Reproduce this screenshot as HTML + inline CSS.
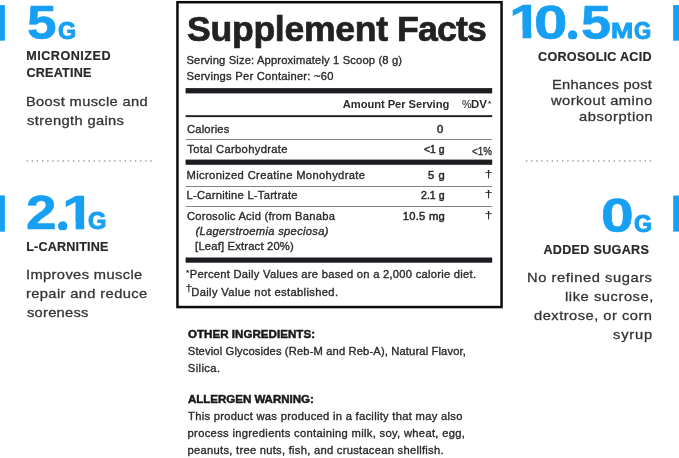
<!DOCTYPE html>
<html lang="en">
<head>
<meta charset="utf-8">
<title>Supplement Facts</title>
<style>
html,body{margin:0;padding:0;background:#fff;}
body{width:679px;height:458px;position:relative;overflow:hidden;will-change:transform;font-family:"Liberation Sans",Arial,sans-serif;}
.t{position:absolute;white-space:nowrap;line-height:1;margin:0;transform-origin:0 0;}
.shapes{position:absolute;left:0;top:0;}
.g{color:#17a0f3;font-weight:700;transform-origin:0 0;}
</style>
</head>
<body>
<svg class="shapes" width="679" height="458" viewBox="0 0 679 458">
<rect x="177.45" y="2.2" width="324.1" height="304.85" fill="none" stroke="#0c0c0e" stroke-width="2.5"/>
<rect x="0" y="5.1" width="4.9" height="35.6" fill="#17a0f3"/>
<rect x="0" y="195.4" width="4.9" height="36.3" fill="#17a0f3"/>
<rect x="673.1" y="5.1" width="5.9" height="35.6" fill="#17a0f3"/>
<rect x="673.2" y="195.5" width="5.8" height="36.1" fill="#17a0f3"/>
<rect x="185.6" y="88.1" width="306.6" height="5.3" fill="#1c1d20"/>
<rect x="185.6" y="115.2" width="306.6" height="1.9" fill="#1c1d20"/>
<rect x="185.6" y="139" width="306.6" height="1" fill="#858585"/>
<rect x="185.6" y="159.6" width="306.6" height="5.2" fill="#1c1d20"/>
<rect x="185.6" y="186" width="306.6" height="1" fill="#858585"/>
<rect x="185.6" y="206.0" width="306.6" height="1" fill="#858585"/>
<rect x="185.6" y="257.5" width="306.6" height="5.2" fill="#1c1d20"/>
<g fill="#a9a9a9"><circle cx="27.20" cy="160.9" r="0.85"/><circle cx="32.36" cy="160.9" r="0.85"/><circle cx="37.52" cy="160.9" r="0.85"/><circle cx="42.68" cy="160.9" r="0.85"/><circle cx="47.84" cy="160.9" r="0.85"/><circle cx="53.00" cy="160.9" r="0.85"/><circle cx="58.16" cy="160.9" r="0.85"/><circle cx="63.32" cy="160.9" r="0.85"/><circle cx="68.48" cy="160.9" r="0.85"/><circle cx="73.64" cy="160.9" r="0.85"/><circle cx="78.80" cy="160.9" r="0.85"/><circle cx="83.96" cy="160.9" r="0.85"/><circle cx="89.12" cy="160.9" r="0.85"/><circle cx="94.28" cy="160.9" r="0.85"/><circle cx="99.44" cy="160.9" r="0.85"/><circle cx="104.60" cy="160.9" r="0.85"/><circle cx="109.76" cy="160.9" r="0.85"/><circle cx="114.92" cy="160.9" r="0.85"/><circle cx="120.08" cy="160.9" r="0.85"/><circle cx="125.24" cy="160.9" r="0.85"/><circle cx="130.40" cy="160.9" r="0.85"/><circle cx="135.56" cy="160.9" r="0.85"/><circle cx="140.72" cy="160.9" r="0.85"/><circle cx="145.88" cy="160.9" r="0.85"/><circle cx="151.04" cy="160.9" r="0.85"/></g>
<g fill="#a9a9a9"><circle cx="526.60" cy="160.9" r="0.85"/><circle cx="531.76" cy="160.9" r="0.85"/><circle cx="536.92" cy="160.9" r="0.85"/><circle cx="542.08" cy="160.9" r="0.85"/><circle cx="547.24" cy="160.9" r="0.85"/><circle cx="552.40" cy="160.9" r="0.85"/><circle cx="557.56" cy="160.9" r="0.85"/><circle cx="562.72" cy="160.9" r="0.85"/><circle cx="567.88" cy="160.9" r="0.85"/><circle cx="573.04" cy="160.9" r="0.85"/><circle cx="578.20" cy="160.9" r="0.85"/><circle cx="583.36" cy="160.9" r="0.85"/><circle cx="588.52" cy="160.9" r="0.85"/><circle cx="593.68" cy="160.9" r="0.85"/><circle cx="598.84" cy="160.9" r="0.85"/><circle cx="604.00" cy="160.9" r="0.85"/><circle cx="609.16" cy="160.9" r="0.85"/><circle cx="614.32" cy="160.9" r="0.85"/><circle cx="619.48" cy="160.9" r="0.85"/><circle cx="624.64" cy="160.9" r="0.85"/><circle cx="629.80" cy="160.9" r="0.85"/><circle cx="634.96" cy="160.9" r="0.85"/><circle cx="640.12" cy="160.9" r="0.85"/><circle cx="645.28" cy="160.9" r="0.85"/><circle cx="650.44" cy="160.9" r="0.85"/></g>
</svg>
<div class="num"><span class="t g" style="left:27.20px;top:-1px;font-size:47.58px;transform:scaleX(1.1164);-webkit-text-stroke:0.6px #17a0f3;">5</span><span class="t g" style="left:57.51px;top:19px;font-size:24.72px;transform:scaleX(0.9445);-webkit-text-stroke:1.0px #17a0f3;">G</span></div>
<div class="t" style="left:26.16px;top:50px;font-size:12.6px;color:#2a2a2c;font-weight:700;letter-spacing:0.513px;-webkit-text-stroke:0.2px #2a2a2c;">MICRONIZED</div>
<div class="t" style="left:26.48px;top:67px;font-size:12.6px;color:#2a2a2c;font-weight:700;letter-spacing:0.225px;-webkit-text-stroke:0.2px #2a2a2c;">CREATINE</div>
<div class="t" style="left:25.80px;top:95px;font-size:13.6px;color:#343436;letter-spacing:0.306px;-webkit-text-stroke:0.3px #343436;transform:scaleX(1.0800);">Boost muscle and</div>
<div class="t" style="left:26.59px;top:114px;font-size:13.6px;color:#343436;letter-spacing:0.336px;-webkit-text-stroke:0.3px #343436;transform:scaleX(1.0800);">strength gains</div>
<div class="num"><span class="t g" style="left:26.24px;top:189px;font-size:47.69px;transform:scaleX(1.1502);-webkit-text-stroke:0.6px #17a0f3;">2</span><span class="t g" style="left:54.35px;top:180px;font-size:59.76px;transform:scaleX(1.0517);-webkit-text-stroke:0.6px #17a0f3;clip-path:ellipse(0.0765em 0.0805em at 0.13843em 0.77204em);">.</span><span class="t g" style="left:62.09px;top:189px;font-size:47.68px;transform:scaleX(1.2524);-webkit-text-stroke:0.6px #17a0f3;clip-path:polygon(0 -10%,67.6% -10%,67.6% 110%,41.2% 110%,41.2% 68%,0 68%);">1</span><span class="t g" style="left:87.83px;top:210px;font-size:23.45px;transform:scaleX(1.0105);-webkit-text-stroke:1.0px #17a0f3;">G</span></div>
<div class="t" style="left:26.16px;top:241px;font-size:12.6px;color:#2a2a2c;font-weight:700;letter-spacing:0.188px;-webkit-text-stroke:0.2px #2a2a2c;">L-CARNITINE</div>
<div class="t" style="left:25.64px;top:268px;font-size:13.6px;color:#343436;letter-spacing:0.347px;-webkit-text-stroke:0.3px #343436;transform:scaleX(1.0800);">Improves muscle</div>
<div class="t" style="left:26.02px;top:287px;font-size:13.6px;color:#343436;letter-spacing:0.350px;-webkit-text-stroke:0.3px #343436;transform:scaleX(1.0800);">repair and reduce</div>
<div class="t" style="left:26.59px;top:306px;font-size:13.6px;color:#343436;letter-spacing:0.234px;-webkit-text-stroke:0.3px #343436;transform:scaleX(1.0800);">soreness</div>
<div class="num"><span class="t g" style="left:509.21px;top:-3px;font-size:48.4px;transform:scaleX(1.2279);-webkit-text-stroke:0.6px #17a0f3;clip-path:polygon(0 -10%,67.6% -10%,67.6% 110%,41.2% 110%,41.2% 68%,0 68%);">1</span><span class="t g" style="left:534.29px;top:-2px;font-size:48.59px;transform:scaleX(1.2401);-webkit-text-stroke:0.6px #17a0f3;">0</span><span class="t g" style="left:564.19px;top:-11px;font-size:59.76px;transform:scaleX(1.0406);-webkit-text-stroke:0.6px #17a0f3;clip-path:ellipse(0.0765em 0.0805em at 0.13843em 0.77204em);">.</span><span class="t g" style="left:580.77px;top:-2px;font-size:48.73px;transform:scaleX(1.1108);-webkit-text-stroke:0.6px #17a0f3;">5</span><span class="t g" style="left:610.84px;top:19px;font-size:22.82px;transform:scaleX(1.1687);-webkit-text-stroke:0.9px #17a0f3;">M</span><span class="t g" style="left:633.76px;top:20px;font-size:23.59px;transform:scaleX(0.9398);-webkit-text-stroke:1.0px #17a0f3;">G</span></div>
<div class="t" style="left:538.08px;top:51px;font-size:12.6px;color:#2a2a2c;font-weight:700;letter-spacing:0.262px;-webkit-text-stroke:0.2px #2a2a2c;">COROSOLIC ACID</div>
<div class="t" style="left:551.80px;top:78px;font-size:13.6px;color:#343436;letter-spacing:0.207px;-webkit-text-stroke:0.3px #343436;transform:scaleX(1.0800);">Enhances post</div>
<div class="t" style="left:551.02px;top:94px;font-size:13.6px;color:#343436;letter-spacing:0.434px;-webkit-text-stroke:0.3px #343436;transform:scaleX(1.0800);">workout amino</div>
<div class="t" style="left:578.78px;top:110px;font-size:13.6px;color:#343436;letter-spacing:0.526px;-webkit-text-stroke:0.3px #343436;transform:scaleX(1.0800);">absorption</div>
<div class="num"><span class="t g" style="left:601.44px;top:191px;font-size:48.16px;transform:scaleX(1.2211);-webkit-text-stroke:0.6px #17a0f3;">0</span><span class="t g" style="left:634.15px;top:213px;font-size:23.02px;transform:scaleX(1.0100);-webkit-text-stroke:1.0px #17a0f3;">G</span></div>
<div class="t" style="left:543.39px;top:244px;font-size:12.6px;color:#2a2a2c;font-weight:700;letter-spacing:0.304px;-webkit-text-stroke:0.2px #2a2a2c;">ADDED SUGARS</div>
<div class="t" style="left:527.10px;top:271px;font-size:13.6px;color:#343436;letter-spacing:0.524px;-webkit-text-stroke:0.3px #343436;transform:scaleX(1.0800);">No refined sugars</div>
<div class="t" style="left:564.51px;top:290px;font-size:13.6px;color:#343436;letter-spacing:0.518px;-webkit-text-stroke:0.3px #343436;transform:scaleX(1.0800);">like sucrose,</div>
<div class="t" style="left:533.98px;top:309px;font-size:13.6px;color:#343436;letter-spacing:0.452px;-webkit-text-stroke:0.3px #343436;transform:scaleX(1.0800);">dextrose, or corn</div>
<div class="t" style="left:612.89px;top:328px;font-size:13.6px;color:#343436;letter-spacing:0.770px;-webkit-text-stroke:0.3px #343436;transform:scaleX(1.0800);">syrup</div>
<div class="num"><span class="t" style="left:186.57px;top:12px;font-size:34.6px;color:#222224;font-weight:700;letter-spacing:-0.286px;-webkit-text-stroke:0.7px #222224;transform:scaleX(1.0300);">Supplement </span><span class="t" style="left:396.72px;top:12px;font-size:34.6px;color:#222224;font-weight:700;letter-spacing:-0.799px;-webkit-text-stroke:0.7px #222224;transform:scaleX(1.0300);">Facts</span></div>
<div class="t" style="left:186.49px;top:55px;font-size:11.2px;color:#2b2b2d;letter-spacing:0.151px;-webkit-text-stroke:0.35px #2b2b2d;">Serving Size: Approximately 1 Scoop (8 g)</div>
<div class="t" style="left:186.49px;top:71px;font-size:11.2px;color:#2b2b2d;letter-spacing:0.234px;-webkit-text-stroke:0.35px #2b2b2d;">Servings Per Container: ~60</div>
<div class="t" style="left:342.72px;top:99px;font-size:11.2px;color:#2b2b2d;font-weight:700;letter-spacing:-0.060px;">Amount Per Serving</div>
<div class="num"><span class="t" style="left:461.72px;top:99px;font-size:11.2px;color:#2b2b2d;-webkit-text-stroke:0.1px #2b2b2d;transform:scaleX(0.9618);">%</span><span class="t" style="left:470.93px;top:99px;font-size:11.2px;color:#2b2b2d;font-weight:700;transform:scaleX(1.0261);">DV</span><span class="t" style="left:487.78px;top:100px;font-size:7.5px;color:#2b2b2d;font-weight:700;transform:scaleX(1.0729);">*</span></div>
<div class="t" style="left:186.93px;top:124px;font-size:11.2px;color:#2b2b2d;letter-spacing:0.205px;-webkit-text-stroke:0.35px #2b2b2d;">Calories</div>
<div class="t" style="left:437.06px;top:124px;font-size:11.2px;color:#2b2b2d;-webkit-text-stroke:0.5px #2b2b2d;">0</div>
<div class="t" style="left:187.25px;top:144px;font-size:11.2px;color:#2b2b2d;letter-spacing:0.337px;-webkit-text-stroke:0.35px #2b2b2d;">Total Carbohydrate</div>
<div class="t" style="left:424.19px;top:144px;font-size:11.2px;color:#2b2b2d;-webkit-text-stroke:0.5px #2b2b2d;transform:scaleX(0.9274);">&lt;1 g</div>
<div class="t" style="left:471.91px;top:146px;font-size:11.2px;color:#2b2b2d;-webkit-text-stroke:0.35px #2b2b2d;transform:scaleX(0.8781);">&lt;1%</div>
<div class="t" style="left:186.58px;top:170px;font-size:11.2px;color:#2b2b2d;letter-spacing:0.351px;-webkit-text-stroke:0.35px #2b2b2d;">Micronized Creatine Monohydrate</div>
<div class="t" style="left:427.95px;top:170px;font-size:11.2px;color:#2b2b2d;letter-spacing:0.609px;-webkit-text-stroke:0.5px #2b2b2d;">5 g</div>
<div class="t" style="left:483.95px;top:170px;font-size:9.4px;color:#2a2a2c;font-family:'Liberation Mono',monospace;-webkit-text-stroke:0.1px #2a2a2c;transform:scaleX(1.6200);">†</div>
<div class="t" style="left:186.58px;top:190px;font-size:11.2px;color:#2b2b2d;letter-spacing:0.248px;-webkit-text-stroke:0.35px #2b2b2d;">L-Carnitine L-Tartrate</div>
<div class="t" style="left:421.17px;top:190px;font-size:11.2px;color:#2b2b2d;-webkit-text-stroke:0.5px #2b2b2d;transform:scaleX(0.9450);">2.1 g</div>
<div class="t" style="left:483.95px;top:190px;font-size:9.4px;color:#2a2a2c;font-family:'Liberation Mono',monospace;-webkit-text-stroke:0.1px #2a2a2c;transform:scaleX(1.6200);">†</div>
<div class="t" style="left:186.93px;top:211px;font-size:11.2px;color:#2b2b2d;letter-spacing:0.238px;-webkit-text-stroke:0.35px #2b2b2d;">Corosolic Acid (from Banaba</div>
<div class="t" style="left:402.75px;top:211px;font-size:11.2px;color:#2b2b2d;letter-spacing:0.259px;-webkit-text-stroke:0.5px #2b2b2d;">10.5 mg</div>
<div class="t" style="left:483.95px;top:211px;font-size:9.4px;color:#2a2a2c;font-family:'Liberation Mono',monospace;-webkit-text-stroke:0.1px #2a2a2c;transform:scaleX(1.6200);">†</div>
<div class="t" style="left:195.38px;top:226px;font-size:11.2px;color:#2b2b2d;font-style:italic;letter-spacing:0.299px;-webkit-text-stroke:0.35px #2b2b2d;">(Lagerstroemia speciosa)</div>
<div class="t" style="left:195.10px;top:241px;font-size:11.2px;color:#2b2b2d;letter-spacing:0.192px;-webkit-text-stroke:0.35px #2b2b2d;">[Leaf] Extract 20%)</div>
<div class="num"><span class="t" style="left:186.06px;top:269px;font-size:7.5px;color:#2b2b2d;-webkit-text-stroke:0.2px #2b2b2d;transform:scaleX(1.1191);">*</span><span class="t" style="left:189.78px;top:269px;font-size:11.2px;color:#2b2b2d;letter-spacing:0.260px;-webkit-text-stroke:0.35px #2b2b2d;">Percent Daily Values are based on a 2,000 calorie diet.</span></div>
<div class="num"><span class="t" style="left:185.26px;top:285px;font-size:9px;color:#2a2a2c;font-family:'Liberation Mono',monospace;-webkit-text-stroke:0.1px #2a2a2c;transform:scaleX(1.4222);">†</span><span class="t" style="left:191.28px;top:287px;font-size:11.2px;color:#2b2b2d;letter-spacing:0.352px;-webkit-text-stroke:0.35px #2b2b2d;">Daily Value not established.</span></div>
<div class="t" style="left:187.83px;top:329px;font-size:10.5px;color:#18181a;font-weight:700;letter-spacing:0.031px;-webkit-text-stroke:0.45px #18181a;transform:scaleX(1.1000);">OTHER INGREDIENTS:</div>
<div class="t" style="left:187.79px;top:346px;font-size:11.2px;color:#2b2b2d;letter-spacing:0.135px;-webkit-text-stroke:0.35px #2b2b2d;">Steviol Glycosides (Reb-M and Reb-A), Natural Flavor,</div>
<div class="t" style="left:187.79px;top:363px;font-size:11.2px;color:#2b2b2d;letter-spacing:0.398px;-webkit-text-stroke:0.35px #2b2b2d;">Silica.</div>
<div class="t" style="left:188.01px;top:394px;font-size:10.5px;color:#18181a;font-weight:700;letter-spacing:-0.034px;-webkit-text-stroke:0.45px #18181a;transform:scaleX(1.1000);">ALLERGEN WARNING:</div>
<div class="t" style="left:188.05px;top:411px;font-size:11.2px;color:#2b2b2d;letter-spacing:0.289px;-webkit-text-stroke:0.35px #2b2b2d;">This product was produced in a facility that may also</div>
<div class="t" style="left:187.58px;top:428px;font-size:11.2px;color:#2b2b2d;letter-spacing:0.315px;-webkit-text-stroke:0.35px #2b2b2d;">process ingredients containing milk, soy, wheat, egg,</div>
<div class="t" style="left:187.58px;top:445px;font-size:11.2px;color:#2b2b2d;letter-spacing:0.268px;-webkit-text-stroke:0.35px #2b2b2d;">peanuts, tree nuts, fish, and crustacean shellfish.</div>
</body>
</html>
